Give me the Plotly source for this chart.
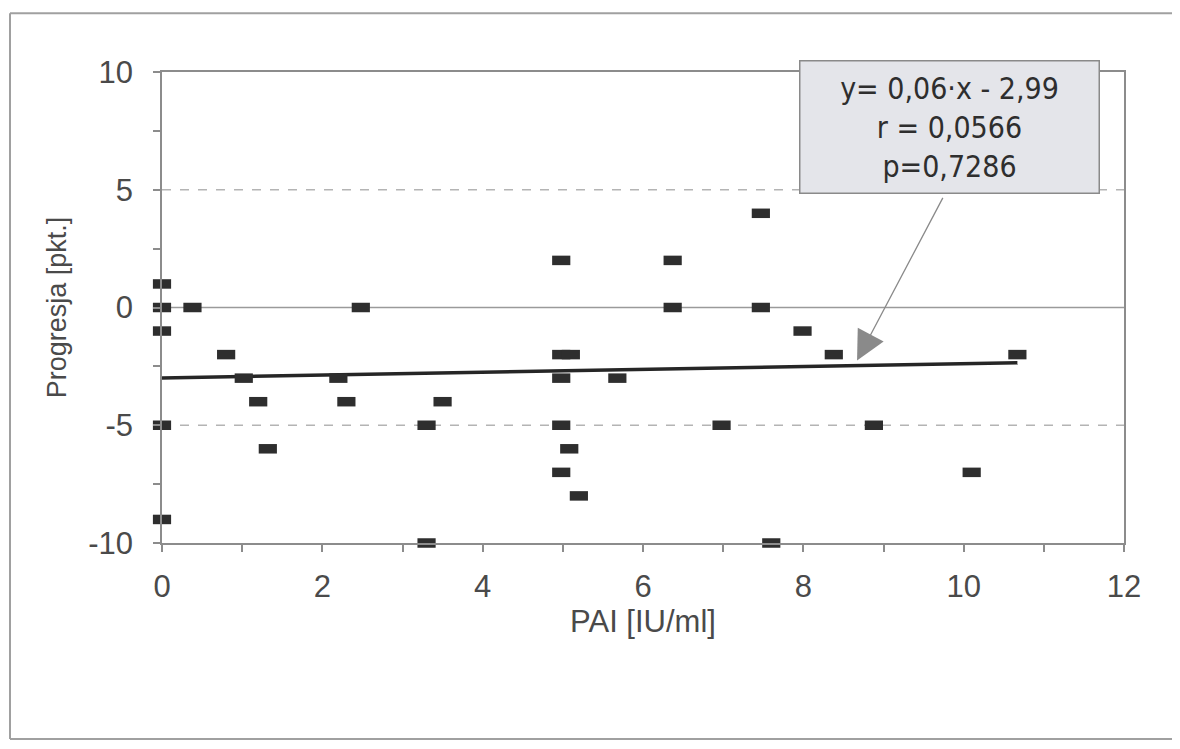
import plotly.graph_objects as go

# ---- data ----
pai = [0, 0, 0, 0, 0, 0.38, 0.8, 1.02, 1.2, 1.32, 2.2, 2.3, 2.48, 3.3, 3.3, 3.5,
       4.98, 4.98, 5.1, 4.98, 4.98, 5.08, 4.98, 5.2, 5.68, 6.37, 6.37, 6.98,
       7.47, 7.47, 7.6, 7.99, 8.38, 8.88, 10.1, 10.67]
progresja = [1, 0, -1, -5, -9, 0, -2, -3, -4, -6, -3, -4, 0, -5, -10, -4,
             2, -2, -2, -3, -5, -6, -7, -8, -3, 2, 0, -5,
             4, 0, -10, -1, -2, -5, -7, -2]

slope = 0.06
intercept = -2.99
fit_x = [0, 10.67]
fit_y = [slope * v + intercept for v in fit_x]

x_ticks = [0, 2, 4, 6, 8, 10, 12]
x_ticktext = ["0", "2", "4", "6", "8", "10", "12"]
y_ticks = [-10, -5, 0, 5, 10]
y_ticktext = ["-10", "-5", "0", "5", "10"]

stats_text = ["y= 0,06·x - 2,99", "r = 0,0566", "p=0,7286"]
arrow_tip = (8.67, -2.25)
arrow_tail = (9.75, 4.72)

x_title = "PAI [IU/ml]"
y_title = "Progresja [pkt.]"

TXT = "#4a4a4a"
AX = "#8c8c8c"
FONT = "Liberation Sans, Arial, sans-serif"
NARROW = "Liberation Sans Narrow, DejaVu Sans Condensed, Roboto, sans-serif"

fig = go.Figure()

fig.add_trace(go.Scatter(
    x=fit_x, y=fit_y, mode="lines",
    line=dict(color="#262626", width=3.5),
    showlegend=False, hoverinfo="skip"))

fig.add_trace(go.Scatter(
    x=pai, y=progresja, mode="markers",
    marker=dict(symbol="line-ew", size=13,
                line=dict(color="#2e2e2e", width=9.5)),
    cliponaxis=False, showlegend=False))

# reference lines at 0 and +/-5
fig.add_shape(type="line", xref="x", yref="y", x0=0, x1=12, y0=0, y1=0,
              line=dict(color="#9a9a9a", width=1.5), layer="below")
for yv in (5, -5):
    fig.add_shape(type="line", xref="x", yref="y", x0=0, x1=12, y0=yv, y1=yv,
                  line=dict(color="#b4b4b4", width=1.5, dash="dash"), layer="below")

# outer frame of the scanned page: left, top and bottom edges only
frame = dict(color="#a0a0a0", width=2)
fig.add_shape(type="line", xref="paper", yref="paper",
              x0=-0.158, x1=-0.158, y0=-0.416, y1=1.125, line=frame, layer="below")
fig.add_shape(type="line", xref="paper", yref="paper",
              x0=-0.158, x1=1.06, y0=1.125, y1=1.125, line=frame, layer="below")
fig.add_shape(type="line", xref="paper", yref="paper",
              x0=-0.158, x1=1.06, y0=-0.416, y1=-0.416, line=frame, layer="below")

# statistics box
fig.add_annotation(
    xref="x", yref="y", x=9.82, y=7.66, xanchor="center", yanchor="middle",
    text="<br>".join(stats_text), showarrow=False,
    font=dict(family=NARROW, size=30, color="#2e2e2e"),
    align="center", width=280, borderpad=9,
    bgcolor="#e4e5ea", bordercolor="#8a8a8a", borderwidth=1.5)

# arrow from the box to the regression line
fig.add_annotation(
    xref="x", yref="y", axref="x", ayref="y",
    x=arrow_tip[0], y=arrow_tip[1], ax=arrow_tail[0], ay=arrow_tail[1],
    text="", showarrow=True, arrowhead=2, arrowsize=4.5, arrowwidth=1.3,
    arrowcolor="#8a8a8a", standoff=0, startstandoff=0)

fig.update_layout(
    width=1164, height=733,
    margin=dict(l=154, r=48, t=64, b=198),
    paper_bgcolor="white", plot_bgcolor="white",
    font=dict(family=FONT, color=TXT),
    xaxis=dict(range=[0, 12], tickvals=x_ticks, ticktext=x_ticktext,
               showgrid=False, zeroline=False, automargin=False,
               showline=True, linecolor=AX, linewidth=1.5, mirror=True,
               ticks="outside", ticklen=7, tickcolor=AX, tickwidth=1.5,
               minor=dict(dtick=1, ticks="outside", ticklen=7, tickcolor=AX, tickwidth=1.5),
               tickfont=dict(size=31, color=TXT), ticklabelstandoff=8,
               title=dict(text=x_title, font=dict(size=31, color=TXT), standoff=4)),
    yaxis=dict(range=[-10, 10], tickvals=y_ticks, ticktext=y_ticktext,
               showgrid=False, zeroline=False, automargin=False,
               showline=True, linecolor=AX, linewidth=1.5, mirror=True,
               ticks="outside", ticklen=7, tickcolor=AX, tickwidth=1.5,
               minor=dict(dtick=2.5, ticks="outside", ticklen=7, tickcolor=AX, tickwidth=1.5),
               tickfont=dict(size=31, color=TXT), ticklabelstandoff=14,
               title=dict(text=y_title, font=dict(size=27, color=TXT), standoff=14)),
)

fig.write_html("out.html")
